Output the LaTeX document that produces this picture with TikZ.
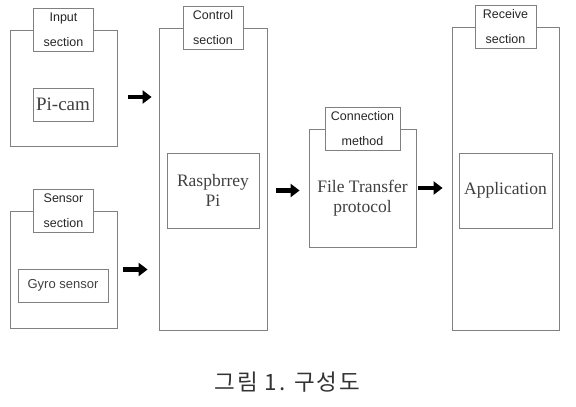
\documentclass[tikz,border=0pt]{standalone}
\usepackage{fontspec}
\setmainfont{Liberation Serif}
\setsansfont{Liberation Sans}
\newfontfamily\krfont[LetterSpace=8]{Noto Sans CJK KR}
\usetikzlibrary{positioning,arrows.meta}

\begin{document}
\begin{tikzpicture}[x=1pt, y=-1pt,
  sect/.style={draw=black!50, line width=0.8pt, inner sep=0pt},
  tab/.style={draw=black!50, fill=white, line width=0.8pt, align=center, font=\sffamily\fontsize{12.5}{25}\selectfont, text=black!85, minimum width=60pt, minimum height=43pt, inner sep=1pt},
  inbox/.style={draw=black!50, line width=0.8pt, align=center, font=\fontsize{17.5}{20}\selectfont, text=black!75, inner sep=0pt},
  bigarr/.style={-{Triangle[length=9pt, width=13pt]}, line width=4.5pt}
]
\useasboundingbox (0,0) rectangle (576,407);
\clip (0,0) rectangle (576,407);
% sections
\node[sect, minimum width=107pt, minimum height=116pt] (inp) at (63.5,88) {};
\node[sect, minimum width=107pt, minimum height=117pt] (sen) at (63.5,269.5) {};
\node[sect, minimum width=108pt, minimum height=302pt] (ctl) at (213,179) {};
\node[sect, minimum width=107pt, minimum height=118pt] (con) at (362.5,188) {};
\node[sect, minimum width=107pt, minimum height=303pt] (rcv) at (505.5,178.5) {};
% tabs
\node[tab] (inptab) at (inp.north) {Input\\section};
\node[tab] (sentab) at (sen.north) {Sensor\\section};
\node[tab] (ctltab) at (ctl.north) {Control\\section};
\node[tab, minimum width=75pt] (contab) at (con.north) {Connection\\method};
\node[tab, minimum width=61pt] (rcvtab) at (rcv.north) {Receive\\section};
% contents
\node[inbox, font=\fontsize{19}{20}\selectfont, minimum width=60pt, minimum height=33pt] (pic) at (63,104.5) {Pi-cam};
\node[inbox, font=\sffamily\fontsize{13}{14}\selectfont, minimum width=90pt, minimum height=33pt] (gyr) at (63,285.5) {Gyro sensor};
\node[inbox, minimum width=92pt, minimum height=75pt] (rpi) at (213,190.5) {Raspbrrey\\Pi};
\node[inbox, draw=none] (ftp) at (362.5,198) {File Transfer\\protocol};
\node[inbox, minimum width=93pt, minimum height=75pt] (app) at (505.5,190.5) {Application};
% arrows
\coordinate (a1) at ([yshift=-9pt]inp.east);
\draw[bigarr, shorten <=11pt, shorten >=7pt] (a1) -- (a1 -| ctl.west);
\draw[bigarr, shorten <=6pt, shorten >=11pt] (sen.east) -- (sen.east -| ctl.west);
\draw[bigarr, shorten <=9pt, shorten >=9pt] (ctl.east |- rpi.east) -- (con.west |- rpi.east);
\draw[bigarr, shorten <=2pt, shorten >=9pt] (con.east) -- (rcv.west |- con.east);
% caption
\node[font=\krfont\fontsize{22.5}{24}\selectfont, text=black!80] (cap) at (287.5,382) {그림 1. 구성도};
\node[font=\sffamily\fontsize{18}{22}\selectfont, text=black!80, anchor=base west, inner sep=0pt] (fig) at (162,424) {Fig. 1. System diagram};
\end{tikzpicture}
\end{document}
